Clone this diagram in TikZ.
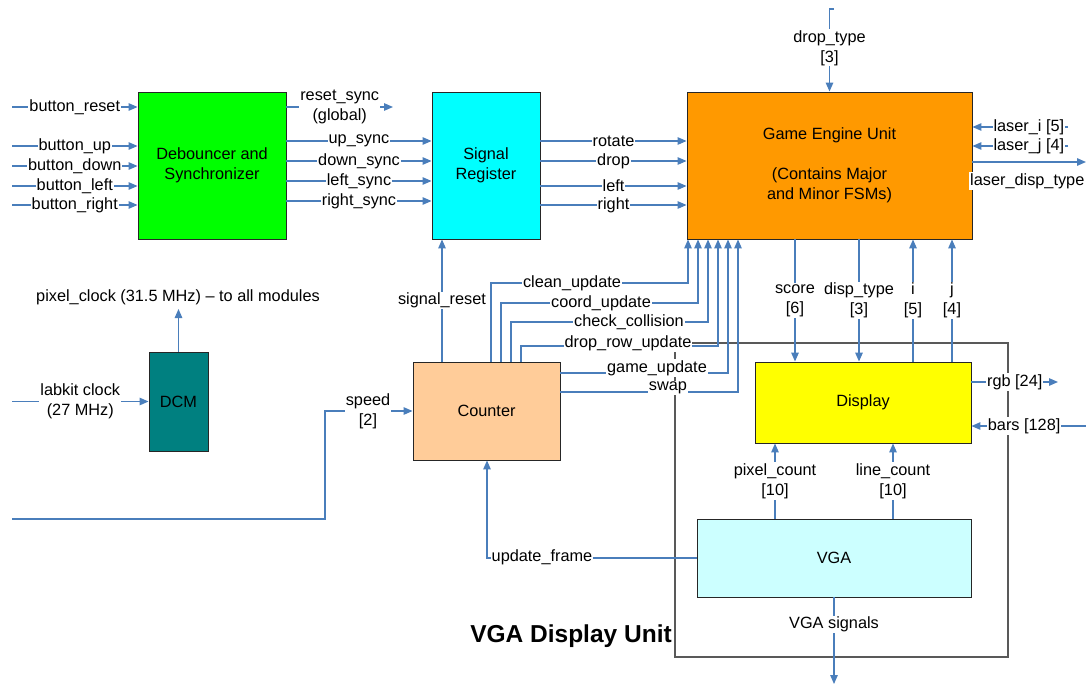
\documentclass[tikz,border=0pt]{standalone}
\usepackage{fontspec}
\setmainfont{Liberation Sans}
\usetikzlibrary{arrows.meta}
\definecolor{wirecol}{HTML}{4A7EBB}
\definecolor{fgreen}{HTML}{00FF00}
\definecolor{fcyan}{HTML}{00FFFF}
\definecolor{forange}{HTML}{FF9900}
\definecolor{fpeach}{HTML}{FFCC99}
\definecolor{fyellow}{HTML}{FFFF00}
\definecolor{flcyan}{HTML}{CCFFFF}
\definecolor{fteal}{HTML}{008080}
\definecolor{frame}{HTML}{595959}
\begin{document}
\begin{tikzpicture}[x=1pt,y=-1pt,
  font=\fontsize{16.3}{20}\selectfont,
  wire/.style={draw=wirecol, line width=1.3pt},
  arr/.style={wire, -{Triangle[length=9pt,width=7.5pt]}},
  box/.style={draw=black!85, line width=0.9pt, inner sep=0pt, align=center},
  lbl/.style={fill=white, inner sep=1pt, align=center}]
\useasboundingbox (0,0) rectangle (1086,685);

% outer frame of VGA display unit
\draw[frame, line width=1.2pt] (675,343) rectangle (1008,657);

% boxes
\node[box, fill=fgreen, minimum width=148pt, minimum height=147pt] (deb) at (212,165.5) {Debouncer and\\Synchronizer};
\node[box, fill=fcyan, minimum width=108pt, minimum height=147pt] (sig) at (486,165.5) {Signal\\Register};
\node[box, fill=forange, minimum width=285pt, minimum height=147pt] (eng) at (829.5,165.5) {Game Engine Unit\\ \\(Contains Major\\and Minor FSMs)};
\node[box, fill=fpeach, minimum width=147pt, minimum height=98pt] (cnt) at (486.5,411) {Counter};
\node[box, fill=fyellow, minimum width=216pt, minimum height=81pt] (disp) at (863,402.5) {Display};
\node[box, fill=flcyan, minimum width=274pt, minimum height=78pt] (vga) at (834,558) {VGA};
\node[box, fill=fteal, minimum width=59pt, minimum height=99pt] (dcm) at (178.5,401.5) {DCM};

% button inputs
\coordinate (ib1) at (12,107);
\coordinate (ib2) at (12,146);
\coordinate (ib3) at (12,166);
\coordinate (ib4) at (12,186);
\coordinate (ib5) at (12,205);
\draw[arr] (ib1) -- (ib1 -| deb.west) node[lbl,pos=0.5] {button\_reset};
\draw[arr] (ib2) -- (ib2 -| deb.west) node[lbl,pos=0.5] {button\_up};
\draw[arr] (ib3) -- (ib3 -| deb.west) node[lbl,pos=0.5] {button\_down};
\draw[arr] (ib4) -- (ib4 -| deb.west) node[lbl,pos=0.5] {button\_left};
\draw[arr] (ib5) -- (ib5 -| deb.west) node[lbl,pos=0.5] {button\_right};

% debouncer outputs
\coordinate (rs) at (393,107);
\draw[arr] (rs -| deb.east) -- (rs) node[lbl,pos=0.5] {reset\_sync\\(global)};
\coordinate (s1) at (0,141);
\coordinate (s2) at (0,161);
\coordinate (s3) at (0,181);
\coordinate (s4) at (0,201);
\draw[arr] (s1 -| deb.east) -- (s1 -| sig.west) node[lbl,pos=0.5] {up\_sync};
\draw[arr] (s2 -| deb.east) -- (s2 -| sig.west) node[lbl,pos=0.5] {down\_sync};
\draw[arr] (s3 -| deb.east) -- (s3 -| sig.west) node[lbl,pos=0.5] {left\_sync};
\draw[arr] (s4 -| deb.east) -- (s4 -| sig.west) node[lbl,pos=0.5] {right\_sync};

% signal register outputs
\coordinate (r1) at (0,141);
\coordinate (r2) at (0,161);
\coordinate (r3) at (0,186);
\coordinate (r4) at (0,205);
\draw[arr] (r1 -| sig.east) -- (r1 -| eng.west) node[lbl,pos=0.5] {rotate};
\draw[arr] (r2 -| sig.east) -- (r2 -| eng.west) node[lbl,pos=0.5] {drop};
\draw[arr] (r3 -| sig.east) -- (r3 -| eng.west) node[lbl,pos=0.5] {left};
\draw[arr] (r4 -| sig.east) -- (r4 -| eng.west) node[lbl,pos=0.5] {right};

% drop_type
\coordinate (dt) at (833.5,9);
\draw[arr] (dt) -- (dt -| eng.north) -- (eng.north) node[lbl,pos=0.47] {drop\_type\\{[3]}};

% laser inputs / output
\coordinate (li) at (1068,127);
\coordinate (lj) at (1068,146);
\draw[arr] (li) -- (li -| eng.east) node[lbl,pos=0.41] {laser\_i [5]};
\draw[arr] (lj) -- (lj -| eng.east) node[lbl,pos=0.41] {laser\_j [4]};
\coordinate (ld) at (1086,162);
\draw[arr] (ld -| eng.east) -- (ld);
\node[lbl, anchor=west] (ldl) at (969,181) {laser\_disp\_type};

% engine <-> display
\coordinate (xs) at (795,0);
\coordinate (xd) at (859,0);
\coordinate (xi) at (913,0);
\coordinate (xj) at (952,0);
\draw[arr] (eng.south -| xs) -- (disp.north -| xs) node[lbl,pos=0.5] {score\\{[6]}};
\draw[arr] (eng.south -| xd) -- (disp.north -| xd) node[lbl,pos=0.5] {disp\_type\\{[3]}};
\draw[arr] (disp.north -| xi) -- (eng.south -| xi) node[lbl,pos=0.5] {i\\{[5]}};
\draw[arr] (disp.north -| xj) -- (eng.south -| xj) node[lbl,pos=0.5] {j\\{[4]}};

% counter -> signal register
\coordinate (xr) at (442,0);
\draw[arr] (cnt.north -| xr) -- (sig.south -| xr) node[lbl,pos=0.5] {signal\_reset};

% counter -> engine
\coordinate (k1) at (491,283);
\coordinate (k2) at (501,303);
\coordinate (k3) at (511,322);
\coordinate (k4) at (521,346);
\coordinate (k5) at (0,373);
\coordinate (k6) at (0,392);
\coordinate (a1) at (688,0);
\coordinate (a2) at (698,0);
\coordinate (a3) at (708,0);
\coordinate (a4) at (718,0);
\coordinate (a5) at (728,0);
\coordinate (a6) at (738,0);
\draw[arr] (cnt.north -| k1) -- (k1) -- (k1 -| a1) -- (eng.south -| a1);
\draw[arr] (cnt.north -| k2) -- (k2) -- (k2 -| a2) -- (eng.south -| a2);
\draw[arr] (cnt.north -| k3) -- (k3) -- (k3 -| a3) -- (eng.south -| a3);
\draw[arr] (cnt.north -| k4) -- (k4) -- (k4 -| a4) -- (eng.south -| a4);
\draw[arr] (k5 -| cnt.east) -- (k5 -| a5) -- (eng.south -| a5);
\draw[arr] (k6 -| cnt.east) -- (k6 -| a6) -- (eng.south -| a6);
\node[lbl] at (572,283) {clean\_update};
\node[lbl] at (601,303) {coord\_update};
\node[lbl] at (629,322) {check\_collision};
\node[lbl] at (628,343) {drop\_row\_update};
\node[lbl] at (657,368) {game\_update};
\node[lbl] at (668,388) {swap};

% display outputs / inputs
\coordinate (rgb) at (1058,382);
\draw[arr] (rgb -| disp.east) -- (rgb) node[lbl,pos=0.5] {rgb [24]};
\coordinate (bars) at (1086,426);
\draw[arr] (bars) -- (bars -| disp.east) node[lbl,pos=0.54] {bars [128]};

% VGA -> display
\coordinate (xp) at (775,0);
\coordinate (xl) at (893,0);
\draw[arr] (vga.north -| xp) -- (disp.south -| xp) node[lbl,pos=0.5] {pixel\_count\\{[10]}};
\draw[arr] (vga.north -| xl) -- (disp.south -| xl) node[lbl,pos=0.5] {line\_count\\{[10]}};

% VGA -> counter
\coordinate (xu) at (487,0);
\draw[arr] (vga.west) -- (vga.west -| xu) -- (cnt.south -| xu);
\node[lbl] at (542,557) {update\_frame};

% VGA signals
\coordinate (vs) at (834,684);
\draw[arr] (vga.south) -- (vs) node[lbl,pos=0.31] {VGA signals};

% DCM
\coordinate (lk) at (12,401.5);
\draw[arr] (lk) -- (dcm.west) node[lbl,pos=0.5] {labkit clock\\(27 MHz)};
\coordinate (pc) at (178.5,309);
\draw[arr] (dcm.north) -- (pc);
\node[lbl] at (178,297) {pixel\_clock (31.5 MHz) -- to all modules};

% speed
\coordinate (sp0) at (12,519);
\coordinate (sp1) at (325,519);
\draw[arr] (sp0) -- (sp1) -- (sp1 |- cnt.west) -- (cnt.west);
\node[lbl] at (368,411) {speed\\{[2]}};

% title
\node at (571,636) {\fontsize{24.5}{30}\selectfont\bfseries VGA Display Unit};
\end{tikzpicture}
\end{document}
